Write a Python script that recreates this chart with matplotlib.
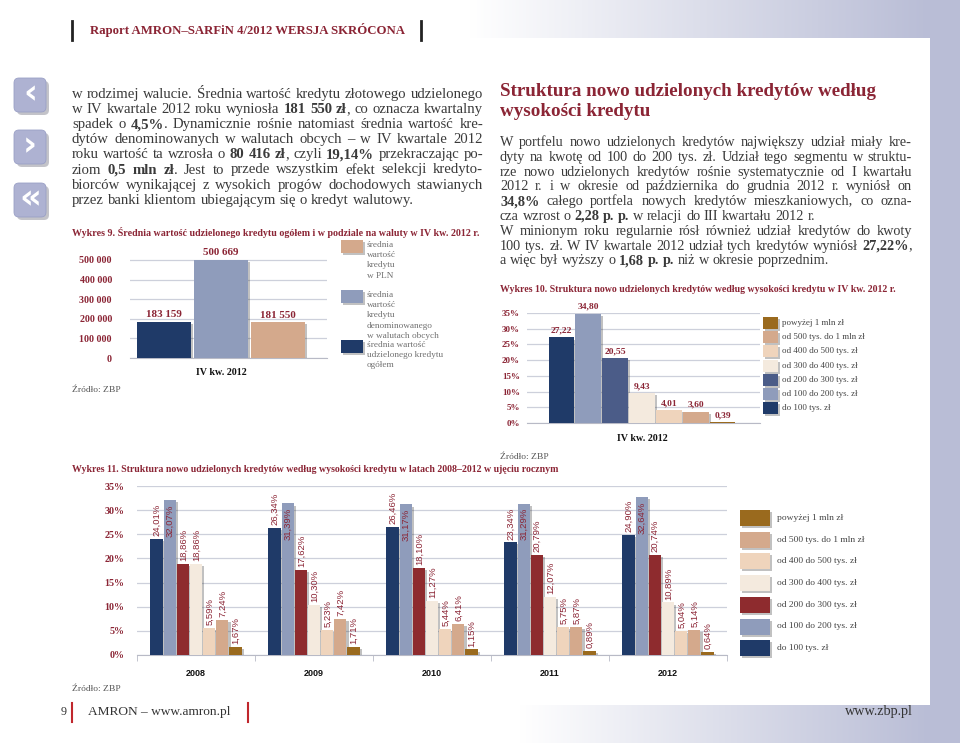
import matplotlib
matplotlib.use('Agg')
import matplotlib.pyplot as plt
import matplotlib.patheffects as pe
from matplotlib.patches import Rectangle, FancyBboxPatch
import numpy as np

# ---------------- data ----------------
header_text = 'Raport AMRON–SARFiN 4/2012 WERSJA SKRÓCONA'

left_lines = [
    'w rodzimej walucie. Średnia wartość kredytu złotowego udzielonego',
    'w IV kwartale 2012 roku wyniosła **181 550 zł**, co oznacza kwartalny',
    'spadek o **4,5%**. Dynamicznie rośnie natomiast średnia wartość kre-',
    'dytów denominowanych w walutach obcych – w IV kwartale 2012',
    'roku wartość ta wzrosła o **80 416 zł**, czyli **19,14%** przekraczając po-',
    'ziom **0,5 mln zł**. Jest to przede wszystkim efekt selekcji kredyto-',
    'biorców wynikającej z wysokich progów dochodowych stawianych',
    'przez banki klientom ubiegającym się o kredyt walutowy.',
]
left_last = [False, False, False, False, False, False, False, True]

right_title = ['Struktura nowo udzielonych kredytów według', 'wysokości kredytu']
right_lines = [
    'W portfelu nowo udzielonych kredytów największy udział miały kre-',
    'dyty na kwotę od 100 do 200 tys. zł. Udział tego segmentu w struktu-',
    'rze nowo udzielonych kredytów rośnie systematycznie od I kwartału',
    '2012 r. i w okresie od października do grudnia 2012 r. wyniósł on',
    '**34,8%** całego portfela nowych kredytów mieszkaniowych, co ozna-',
    'cza wzrost o **2,28 p. p.** w relacji do III kwartału 2012 r.',
    'W minionym roku regularnie rósł również udział kredytów do kwoty',
    '100 tys. zł. W IV kwartale 2012 udział tych kredytów wyniósł **27,22%**,',
    'a więc był wyższy o **1,68 p. p.** niż w okresie poprzednim.',
]
right_last = [False, False, False, False, False, True, False, False, True]

source_text = 'Źródło: ZBP'

# Wykres 9
w9_title = 'Wykres 9. Średnia wartość udzielonego kredytu ogółem i w podziale na waluty w IV kw. 2012 r.'
w9_category = 'IV kw. 2012'
w9_series = ['średnia wartość udzielonego kredytu ogółem',
             'średnia wartość kredytu denominowanego w walutach obcych',
             'średnia wartość kredytu w PLN']
w9_values = [183159, 500669, 181550]
w9_yticks = [0, 100000, 200000, 300000, 400000, 500000]
w9_yticklabels = ['0', '100 000', '200 000', '300 000', '400 000', '500 000']
w9_legend_lines = [
    ['średnia', 'wartość', 'kredytu', 'w PLN'],
    ['średnia', 'wartość', 'kredytu', 'denominowanego', 'w walutach obcych'],
    ['średnia wartość', 'udzielonego kredytu', 'ogółem'],
]
w9_legend_series = [2, 1, 0]

# Wykres 10
w10_title = 'Wykres 10. Struktura nowo udzielonych kredytów według wysokości kredytu w IV kw. 2012 r.'
w10_category = 'IV kw. 2012'
w10_classes = ['do 100 tys. zł', 'od 100 do 200 tys. zł', 'od 200 do 300 tys. zł',
               'od 300 do 400 tys. zł', 'od 400 do 500 tys. zł',
               'od 500 tys. do 1 mln zł', 'powyżej 1 mln zł']
w10_values = [27.22, 34.80, 20.55, 9.43, 4.01, 3.60, 0.39]
w10_yticks = [0, 5, 10, 15, 20, 25, 30, 35]
w10_yticklabels = ['0%', '5%', '10%', '15%', '20%', '25%', '30%', '35%']

# Wykres 11
w11_title = ('Wykres 11. Struktura nowo udzielonych kredytów według wysokości kredytu '
             'w latach 2008–2012 w ujęciu rocznym')
w11_years = ['2008', '2009', '2010', '2011', '2012']
w11_classes = w10_classes
w11_do_100 = [24.01, 26.34, 26.46, 23.34, 24.90]
w11_100_200 = [32.07, 31.39, 31.17, 31.29, 32.64]
w11_200_300 = [18.86, 17.62, 18.10, 20.79, 20.74]
w11_300_400 = [18.86, 10.30, 11.27, 12.07, 10.89]
w11_400_500 = [5.59, 5.23, 5.44, 5.75, 5.04]
w11_500_1000 = [7.24, 7.42, 6.41, 5.87, 5.14]
w11_above_1000 = [1.67, 1.71, 1.15, 0.89, 0.64]
w11_yticks = [0, 5, 10, 15, 20, 25, 30, 35]
w11_yticklabels = ['0%', '5%', '10%', '15%', '20%', '25%', '30%', '35%']

footer_page = '9'
footer_left = 'AMRON – www.amron.pl'
footer_right = 'www.zbp.pl'

# ---------------- style ----------------
W, H = 960, 743
SERIF = 'Liberation Serif'
SANS = 'Liberation Sans'
TXT = '#3a3a3a'
RED = '#8b2535'
C_NAVY = '#1f3a68'
C_GREY = '#8f9cbb'
C_SLATE = '#4b5c88'
C_RED = '#8e2b2e'
C_CREAM = '#f4eade'
C_PEACH = '#efd4bc'
C_TAN = '#d4a98c'
C_BROWN = '#9a6a1e'
GRID = '#cdd0db'
LAV = np.array([185, 189, 214]) / 255.0

w9_colors = [C_NAVY, C_GREY, C_TAN]
w10_colors = [C_NAVY, C_GREY, C_SLATE, C_CREAM, C_PEACH, C_TAN, C_BROWN]
w11_colors = [C_NAVY, C_GREY, C_RED, C_CREAM, C_PEACH, C_TAN, C_BROWN]
w11_inside = [False, True, False, False, False, False, False]

shadow = [pe.SimplePatchShadow(offset=(1.5, -1.5), shadow_rgbFace='#333333', alpha=0.3), pe.Normal()]

fig = plt.figure(figsize=(W / 100, H / 100), dpi=100)
renderer = fig.canvas.get_renderer()

# background canvas in pixel coordinates
ax0 = fig.add_axes([0, 0, 1, 1])
X, Y = np.meshgrid(np.arange(W) + 0.5, np.arange(H) + 0.5)
t = np.zeros((H, W))
top = Y < 38
t[top] = np.clip((X[top] - 470) / (930 - 470), 0, 1)
bot = Y > 705
t[bot] = np.clip((X[bot] - 520) / (930 - 520), 0, 1)
t[X > 930] = 1
img = 1 - t[..., None] * (1 - LAV)
ax0.imshow(img, extent=[0, W, H, 0], aspect='auto', interpolation='bilinear', zorder=0)
ax0.set_xlim(0, W)
ax0.set_ylim(H, 0)
ax0.axis('off')


def px(v):
    return v * 0.72  # pixel size -> points


def tw(s, size, weight='normal', family=SERIF):
    tt = ax0.text(0, 0, s, fontsize=size, fontweight=weight, family=family)
    w = tt.get_window_extent(renderer).width
    tt.remove()
    return w


def fit_size(s, width, weight='normal', family=SERIF, base=10):
    return base * width / tw(s, base, weight, family)


def parse_words(line):
    words = []
    bold = False
    for tok in line.split(' '):
        pieces = []
        parts = tok.split('**')
        for k, p in enumerate(parts):
            if k > 0:
                bold = not bold
            if p:
                pieces.append((p, bold))
        words.append(pieces)
    return words


def draw_block(lines, last, x0, y0, dy, width, size, color):
    parsed = [parse_words(l) for l in lines]

    def measure(sz):
        sp = tw('n n', sz) - tw('nn', sz)
        out = []
        for words in parsed:
            pw = [[tw(p, sz, 'bold' if b else 'normal') for p, b in wd] for wd in words]
            out.append(pw)
        return sp, out

    sp, meas = measure(size)
    need = max(sum(sum(p) for p in pw) + sp * (len(pw) - 1) for pw in meas)
    if need > width:
        size = size * width / need * 0.995
        sp, meas = measure(size)
    for li, (words, pw) in enumerate(zip(parsed, meas)):
        y = y0 + li * dy
        wsum = [sum(p) for p in pw]
        if last[li] or len(words) < 2:
            gap = sp
        else:
            gap = (width - sum(wsum)) / (len(words) - 1)
        x = x0
        for wd, pws, ww in zip(words, pw, wsum):
            xx = x
            for (p, b), w in zip(wd, pws):
                ax0.text(xx, y, p, fontsize=size, fontweight='bold' if b else 'normal',
                         family=SERIF, color=color, va='baseline', ha='left')
                xx += w
            x += ww + gap


def fit_text(x, y, s, width, color, weight='normal', family=SERIF, ha='left', va='center'):
    size = fit_size(s, width, weight, family)
    ax0.text(x, y, s, fontsize=size, fontweight=weight, family=family, color=color, ha=ha, va=va)
    return size


# ---------------- header ----------------
ax0.plot([72, 72], [21, 40], color='#222222', lw=2)
ax0.plot([421, 421], [21, 40], color='#222222', lw=2)
fit_text(90, 30, header_text, 313, RED, weight='bold')

# side icons
for (yt, glyph) in [(78, '‹'), (130, '›'), (183, '«')]:
    sh = FancyBboxPatch((17, yt + 3), 32, 34, boxstyle='round,pad=0,rounding_size=5',
                        facecolor='#555566', edgecolor='none', alpha=0.35, zorder=2)
    ax0.add_patch(sh)
    box = FancyBboxPatch((14, yt), 32, 34, boxstyle='round,pad=0,rounding_size=5',
                         facecolor='#aeb2d2', edgecolor='#9aa0c6', lw=0.6, zorder=3)
    ax0.add_patch(box)
    ax0.text(30, yt + 16, glyph, fontsize=px(34), fontweight='bold', family='DejaVu Sans',
             color='white', ha='center', va='center', zorder=4)

# ---------------- body text ----------------
draw_block(left_lines, left_last, 72, 98, 15.1, 411, px(17), TXT)

tsz = fit_size(right_title[0], 376, weight='bold')
ax0.text(500, 92, right_title[0], fontsize=tsz, fontweight='bold', family=SERIF, color=RED, va='center')
ax0.text(500, 112, right_title[1], fontsize=tsz, fontweight='bold', family=SERIF, color=RED, va='center')
draw_block(right_lines, right_last, 500, 146, 14.8, 412, px(17), TXT)


def add_ax(x0, y0, x1, y1):
    a = fig.add_axes([x0 / W, 1 - y1 / H, (x1 - x0) / W, (y1 - y0) / H])
    a.patch.set_alpha(0)
    for s in ['top', 'right', 'left']:
        a.spines[s].set_visible(False)
    a.spines['bottom'].set_color('#b8bac6')
    a.yaxis.grid(True, color=GRID, lw=0.9)
    a.set_axisbelow(True)
    return a


# ---------------- Wykres 9 ----------------
fit_text(72, 233, w9_title, 406, RED, weight='bold')
ax9 = add_ax(130, 256, 327, 358)
step9, width9 = 0.289, 0.27
for i, (v, c) in enumerate(zip(w9_values, w9_colors)):
    xi = (i - 1) * step9
    ax9.bar([xi], [v], width9, color=c, zorder=3, path_effects=shadow)
    ax9.annotate(f'{v:,}'.replace(',', ' '), (xi, v), xytext=(0, 2), textcoords='offset points',
                 ha='center', va='bottom', fontsize=px(11), fontweight='bold', family=SERIF, color=RED)
ax9.set_xlim(-0.462, 0.538)
ax9.set_ylim(0, 520000)
ax9.set_yticks(w9_yticks)
ax9.set_yticklabels(w9_yticklabels, fontsize=px(10), fontweight='bold', family=SERIF, color=RED)
ax9.set_xticks([0])
ax9.set_xticklabels([w9_category], fontsize=px(10), fontweight='bold', family=SERIF, color='#111111')
ax9.tick_params(axis='y', length=0, pad=13)
ax9.tick_params(axis='x', length=0, pad=7)

for top_y, lines, si in zip([240, 290, 340], w9_legend_lines, w9_legend_series):
    ax0.add_patch(Rectangle((341, top_y), 22, 13, facecolor=w9_colors[si], edgecolor='none',
                            path_effects=shadow, zorder=3))
    for j, ln in enumerate(lines):
        ax0.text(367, top_y + 5 + j * 10.2, ln, fontsize=px(9.3), family=SERIF, color='#707070',
                 va='center', ha='left')
ax0.text(72, 390, source_text, fontsize=px(9.5), family=SERIF, color='#555555', va='center')

# ---------------- Wykres 10 ----------------
fit_text(500, 290, w10_title, 398, RED, weight='bold')
ax10 = add_ax(527, 313, 760, 423)
step10, width10 = 0.1155, 0.109
n10 = len(w10_values)
for i, (v, c) in enumerate(zip(w10_values, w10_colors)):
    xi = (i - (n10 - 1) / 2) * step10
    ax10.bar([xi], [v], width10, color=c, zorder=3, path_effects=shadow)
    ax10.annotate(f'{v:.2f}'.replace('.', ','), (xi, v), xytext=(0, 2), textcoords='offset points',
                  ha='center', va='bottom', fontsize=px(9.5), fontweight='bold', family=SERIF, color=RED)
ax10.set_xlim(-0.4936, 0.5064)
ax10.set_ylim(0, 35)
ax10.set_yticks(w10_yticks)
ax10.set_yticklabels(w10_yticklabels, fontsize=px(9), fontweight='bold', family=SERIF, color=RED)
ax10.set_xticks([0])
ax10.set_xticklabels([w10_category], fontsize=px(10), fontweight='bold', family=SERIF, color='#111111')
ax10.tick_params(axis='y', length=0, pad=5)
ax10.tick_params(axis='x', length=0, pad=8)

for k, i in enumerate(range(n10 - 1, -1, -1)):
    yc = 323 + k * 14.2
    ax0.add_patch(Rectangle((763, yc - 6), 15, 12, facecolor=w10_colors[i], edgecolor='none',
                            path_effects=shadow, zorder=3))
    ax0.text(782, yc, w10_classes[i], fontsize=px(9), family=SERIF, color='#444444', va='center')
ax0.text(500, 457, source_text, fontsize=px(9.5), family=SERIF, color='#555555', va='center')

# ---------------- Wykres 11 ----------------
fit_text(72, 469, w11_title, 488, RED, weight='bold')
ax11 = add_ax(137, 486, 727, 655)
w11_series = [w11_do_100, w11_100_200, w11_200_300, w11_300_400,
              w11_400_500, w11_500_1000, w11_above_1000]
xg = np.arange(len(w11_years))
n11 = len(w11_series)
step11, width11 = 0.1114, 0.104
for i, (vals, c) in enumerate(zip(w11_series, w11_colors)):
    xs = xg + (i - (n11 - 1) / 2) * step11
    ax11.bar(xs, vals, width11, color=c, zorder=3, path_effects=shadow)
    for xi, v in zip(xs, vals):
        lab = f'{v:.2f}'.replace('.', ',') + '%'
        if w11_inside[i]:
            ax11.annotate(lab, (xi, v), xytext=(0.3, -3), textcoords='offset points', rotation=90,
                          ha='center', va='top', fontsize=px(9.5), family=SANS, color=RED, zorder=5)
        else:
            ax11.annotate(lab, (xi, v), xytext=(0.3, 2), textcoords='offset points', rotation=90,
                          ha='center', va='bottom', fontsize=px(9.5), family=SANS, color=RED, zorder=5)
ax11.set_xlim(-0.5, len(w11_years) - 0.5)
ax11.set_ylim(0, 35)
ax11.set_yticks(w11_yticks)
ax11.set_yticklabels(w11_yticklabels, fontsize=px(10), fontweight='bold', family=SERIF, color=RED)
ax11.set_xticks(xg)
ax11.set_xticklabels(w11_years, fontsize=px(9), fontweight='bold', family=SANS, color='#111111')
ax11.set_xticks(np.arange(-0.5, len(w11_years), 1.0), minor=True)
ax11.tick_params(axis='y', length=0, pad=9)
ax11.tick_params(axis='x', which='major', length=0, pad=10)
ax11.tick_params(axis='x', which='minor', length=4, color='#b8bac6', direction='out')

for k, i in enumerate(range(n11 - 1, -1, -1)):
    yc = 518 + k * 21.7
    ax0.add_patch(Rectangle((740, yc - 8), 30, 16, facecolor=w11_colors[i], edgecolor='none',
                            path_effects=shadow, zorder=3))
    ax0.text(777, yc, w11_classes[i], fontsize=px(9.5), family=SERIF, color='#444444', va='center')
ax0.text(72, 689, source_text, fontsize=px(9.5), family=SERIF, color='#555555', va='center')

# ---------------- footer ----------------
ax0.plot([72, 72], [703, 722], color='#c0272d', lw=1.5)
ax0.plot([248, 248], [703, 722], color='#c0272d', lw=1.5)
ax0.text(67, 712, footer_page, fontsize=px(12), family=SERIF, color='#333333', ha='right', va='center')
fit_text(88, 712, footer_left, 143, '#333333')
fit_text(913, 712, footer_right, 68, '#333333', ha='right')

fig.savefig('out.png', dpi=100)
